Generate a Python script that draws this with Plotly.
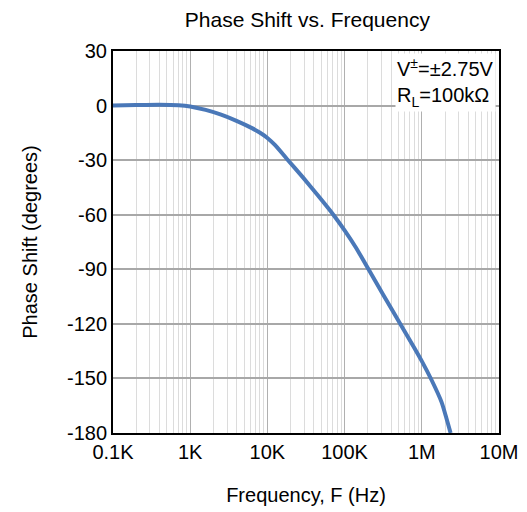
import plotly.graph_objects as go

# log10(frequency in Hz) and phase (degrees)
log_freq = [2.0, 2.3, 2.6, 2.85, 3.0, 3.2, 3.4, 3.6, 3.8, 3.9, 4.0, 4.1, 4.25, 4.46, 4.65,
            4.854, 5.0, 5.15, 5.31, 5.5, 5.718, 5.9, 6.0, 6.128, 6.256, 6.32, 6.373]
phase_deg = [0.0, 0.3, 0.5, 0.2, -0.5, -2.4, -5.0, -8.4, -12.4, -14.8, -17.8, -21.8, -29.2, -39.5, -49.2,
             -60.0, -68.6, -78.3, -90.0, -104.0, -119.8, -133.0, -140.5, -151.0, -163.0, -172.0, -180.0]
freq_hz = [10 ** v for v in log_freq]

x_tickvals = [1e2, 1e3, 1e4, 1e5, 1e6, 1e7]
x_ticktext = ["0.1K", "1K", "10K", "100K", "1M", "10M"]
y_tickvals = [30, 0, -30, -60, -90, -120, -150, -180]
y_ticktext = ["30", "0", "-30", "-60", "-90", "-120", "-150", "-180"]

font = "Liberation Sans, Arial, sans-serif"
fs = 20

fig = go.Figure()
fig.add_trace(go.Scatter(x=freq_hz, y=phase_deg, mode="lines",
                         line=dict(color="#4a78b8", width=4, shape="spline", smoothing=0.7),
                         showlegend=False, hoverinfo="skip"))

fig.update_layout(
    width=527, height=512,
    margin=dict(l=105, r=36, t=43, b=87),
    paper_bgcolor="white", plot_bgcolor="white",
    font=dict(family=font, size=fs, color="black"),
    title=dict(text="Phase Shift vs. Frequency", x=0.568, xanchor="center",
               y=0.977, yanchor="middle", font=dict(size=21)),
    xaxis=dict(type="log", range=[2, 7], tickvals=x_tickvals, ticktext=x_ticktext,
               showline=True, linecolor="black", linewidth=2, mirror=True,
               showgrid=True, gridcolor="#b0b0b0", gridwidth=1,
               ticks="", automargin=False,
               minor=dict(showgrid=True, gridcolor="#dcdcdc", gridwidth=1, dtick="D1"),
               title=dict(text="Frequency, F (Hz)", standoff=26, font=dict(size=fs)),
               zeroline=False),
    yaxis=dict(range=[-180, 30], tickvals=y_tickvals, ticktext=y_ticktext,
               showline=True, linecolor="black", linewidth=2, mirror=True,
               showgrid=True, gridcolor="#a8a8a8", gridwidth=1.5,
               ticks="", zeroline=False, automargin=False,
               title=dict(text="Phase Shift (degrees)", standoff=24, font=dict(size=fs))),
)

fig.add_annotation(xref="paper", yref="paper", x=0.993, y=0.995, xanchor="right", yanchor="top",
                   text="V<sup>±</sup>=±2.75V<br>R<sub>L</sub>=100kΩ", showarrow=False, align="left",
                   bgcolor="white", borderpad=1, font=dict(size=fs))

fig.write_html("out.html")
